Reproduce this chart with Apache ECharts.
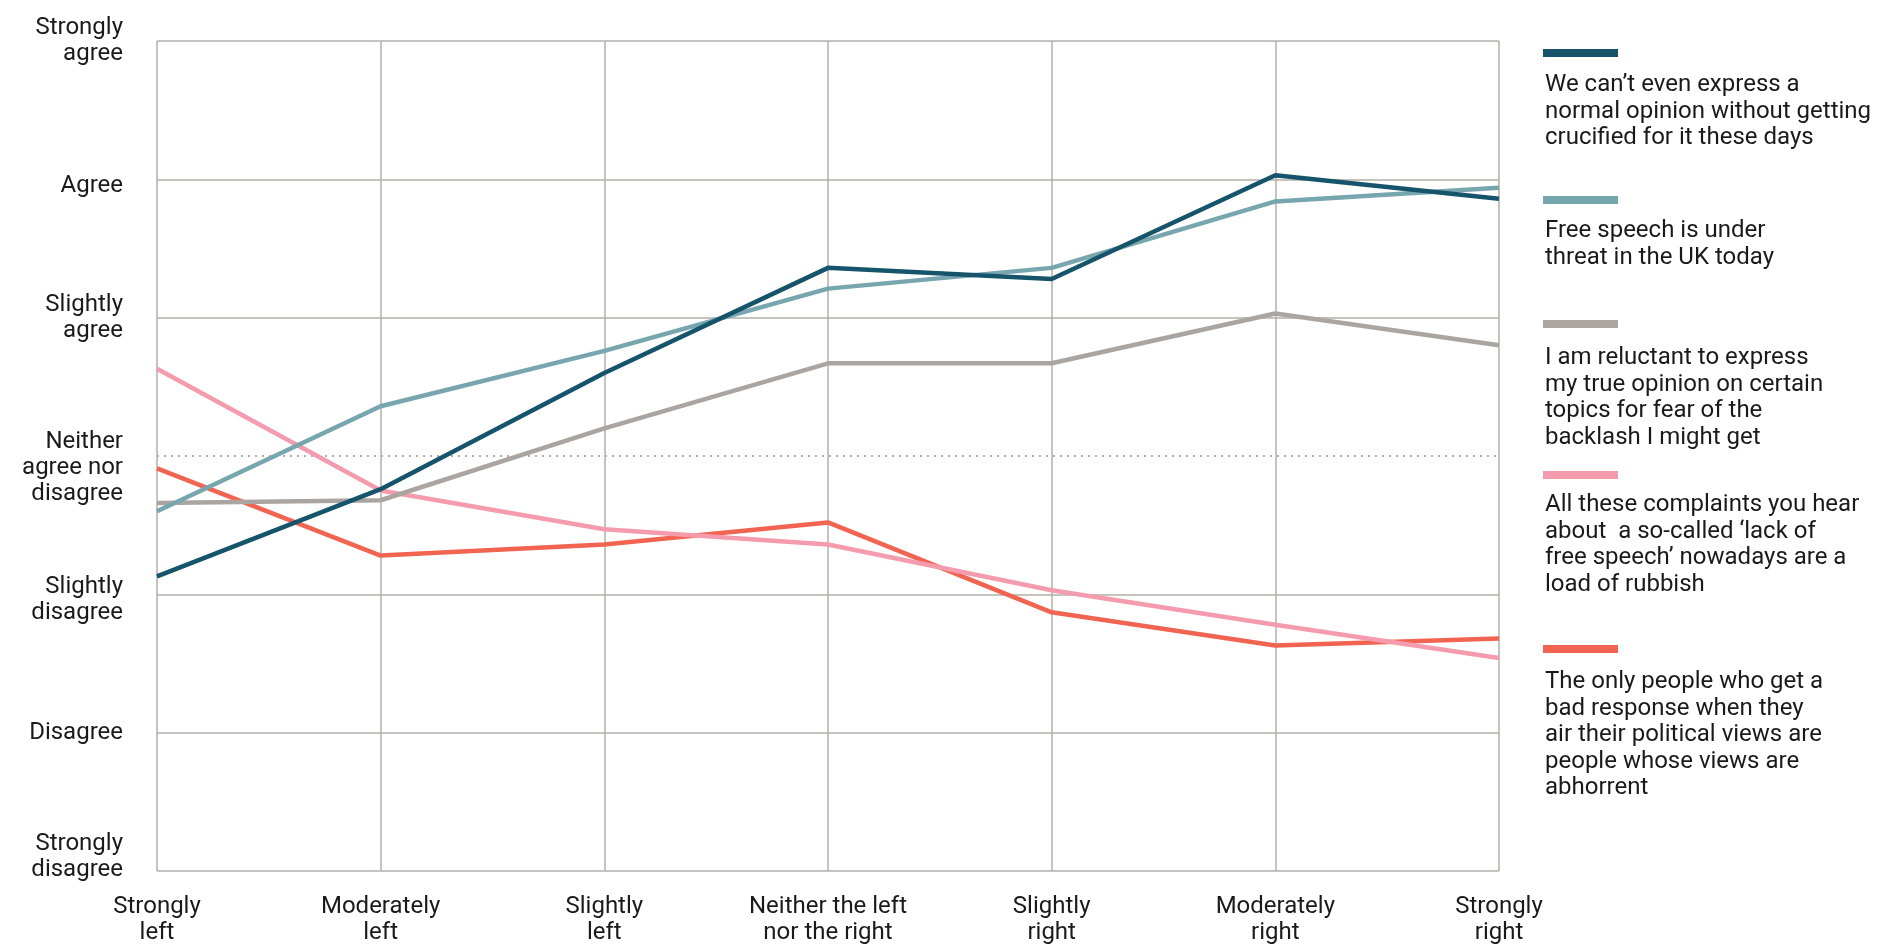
<!DOCTYPE html>
<html>
<head>
<meta charset="utf-8">
<script src="https://cdn.jsdelivr.net/npm/echarts@6/dist/echarts.min.js"></script>
<style>
  html, body { margin: 0; background: #fff; }
  #chart { width: 1902px; height: 946px; }
</style>
</head>
<body>
<div id="chart"></div>
<script>
// x categories: political self-placement
const categories = ['Strongly\nleft', 'Moderately\nleft', 'Slightly\nleft', 'Neither the left\nnor the right', 'Slightly\nright', 'Moderately\nright', 'Strongly\nright'];

// y scale 1..7
const yLabels = ['Strongly\ndisagree', 'Disagree', 'Slightly\ndisagree', 'Neither\nagree nor\ndisagree', 'Slightly\nagree', 'Agree', 'Strongly\nagree'];

const seriesNames = [
  "We can’t even express a normal opinion without getting crucified for it these days",
  'Free speech is under threat in the UK today',
  'I am reluctant to express my true opinion on certain topics for fear of the backlash I might get',
  'All these complaints you hear about  a so-called ‘lack of free speech’ nowadays are a load of rubbish',
  'The only people who get a bad response when they air their political views are people whose views are abhorrent'
];
const legendLines = [
  ["We can’t even express a", 'normal opinion without getting', 'crucified for it these days'],
  ['Free speech is under', 'threat in the UK today'],
  ['I am reluctant to express', 'my true opinion on certain', 'topics for fear of the', 'backlash I might get'],
  ['All these complaints you hear', 'about  a so-called ‘lack of', 'free speech’ nowadays are a', 'load of rubbish'],
  ['The only people who get a', 'bad response when they', 'air their political views are', 'people whose views are', 'abhorrent']
];

const crucified = [3.13, 3.76, 4.60, 5.36, 5.28, 6.03, 5.86];
const underThreat = [3.60, 4.36, 4.76, 5.21, 5.36, 5.84, 5.94];
const reluctant = [3.66, 3.68, 4.20, 4.67, 4.67, 5.03, 4.80];
const rubbish = [4.63, 3.75, 3.47, 3.36, 3.03, 2.78, 2.54];
const abhorrent = [3.91, 3.28, 3.36, 3.52, 2.87, 2.63, 2.68];

const seriesData = [crucified, underThreat, reluctant, rubbish, abhorrent];
const colors = ['#15546a', '#78a6ae', '#aaa5a0', '#f49bae', '#f06451'];

const gridColor = '#b3aea9';
const textColor = '#1a1a1a';
const font = 'Roboto';

// legend layout (marker top, text top)
const legendMarkerTop = [49, 196, 320, 471, 645];
const legendTextTop = [72, 218, 345, 492, 669];

// extra space above / below some y labels, to nudge them like the original
const yLabelNudge = { 1: [0, 28], 3: [12, 0], 4: [24, 0], 6: [14, 0] };

const chart = echarts.init(document.getElementById('chart'));

const series = seriesData.map((d, i) => ({
  name: seriesNames[i],
  type: 'line',
  data: d,
  symbol: 'none',
  z: 10 - i,
  lineStyle: { color: colors[i], width: 4.5 },
  itemStyle: { color: colors[i] }
}));
// dotted "neither" reference line
series[4].markLine = {
  silent: true,
  symbol: ['none', 'none'],
  label: { show: false },
  lineStyle: { color: gridColor, type: [2, 5], width: 2 },
  data: [{ yAxis: 4 }]
};

const graphic = [];
colors.forEach((c, i) => {
  graphic.push({
    type: 'rect',
    left: 1543,
    top: legendMarkerTop[i],
    shape: { width: 75, height: 8 },
    style: { fill: c }
  });
  graphic.push({
    type: 'text',
    left: 1545,
    top: legendTextTop[i],
    style: {
      text: legendLines[i].join('\n'),
      fontFamily: font,
      fontSize: 24,
      lineHeight: 26.5,
      fill: textColor
    }
  });
});

const spacerRich = {};
[12, 14, 24, 28].forEach(h => { spacerRich['sp' + h] = { fontSize: 1, lineHeight: h }; });

const option = {
  animation: false,
  grid: { left: 157, right: 403, top: 41, bottom: 75, containLabel: false },
  xAxis: {
    type: 'category',
    data: categories,
    boundaryGap: false,
    axisLine: { show: false },
    axisTick: { show: false },
    splitLine: { show: true, interval: 0, lineStyle: { color: gridColor, width: 1.5 } },
    axisLabel: {
      interval: 0,
      margin: 23,
      color: textColor,
      fontFamily: font,
      fontSize: 24,
      lineHeight: 26,
      align: 'center'
    }
  },
  yAxis: {
    type: 'value',
    min: 1,
    max: 7,
    interval: 1,
    axisLine: { show: false },
    axisTick: { show: false },
    splitLine: {
      show: true,
      lineStyle: {
        color: [gridColor, gridColor, gridColor, 'rgba(0,0,0,0)', gridColor, gridColor, gridColor],
        width: 1.5
      }
    },
    axisLabel: {
      margin: 34,
      color: textColor,
      fontFamily: font,
      fontSize: 24,
      lineHeight: 26,
      align: 'right',
      rich: spacerRich,
      formatter: v => {
        const nudge = yLabelNudge[v] || [0, 0];
        let s = yLabels[v - 1];
        if (nudge[0]) s = '{sp' + nudge[0] + '| }\n' + s;
        if (nudge[1]) s = s + '\n{sp' + nudge[1] + '| }';
        return s;
      }
    }
  },
  graphic: graphic,
  series: series
};

chart.setOption(option);
</script>
</body>
</html>
